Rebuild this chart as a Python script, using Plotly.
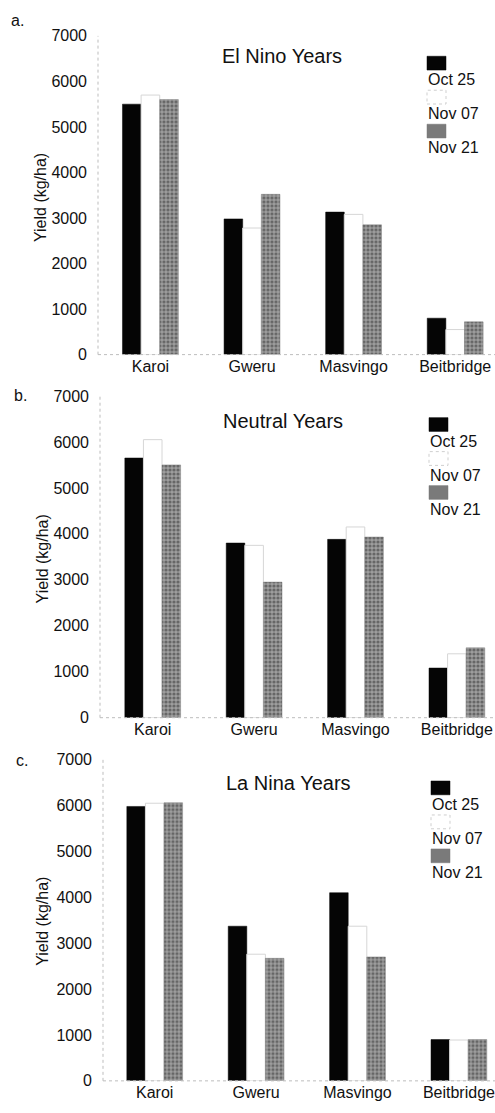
import plotly.graph_objects as go

# ---------------- data ----------------
sites = ["Karoi", "Gweru", "Masvingo", "Beitbridge"]
dates = ["Oct 25", "Nov 07", "Nov 21"]
yticks = [0, 1000, 2000, 3000, 4000, 5000, 6000, 7000]

elnino_oct25 = [5500, 2980, 3130, 800]
elnino_nov07 = [5700, 2780, 3080, 550]
elnino_nov21 = [5600, 3520, 2850, 720]

neutral_oct25 = [5650, 3800, 3880, 1080]
neutral_nov07 = [6050, 3750, 4150, 1390]
neutral_nov21 = [5500, 2950, 3930, 1520]

lanina_oct25 = [5980, 3370, 4100, 900]
lanina_nov07 = [6050, 2760, 3370, 890]
lanina_nov21 = [6060, 2670, 2700, 900]

panel_titles = ["El Nino Years", "Neutral Years", "La Nina Years"]
panel_letters = ["a.", "b.", "c."]
ytitle = "Yield (kg/ha)"

panels = [
    [elnino_oct25, elnino_nov07, elnino_nov21],
    [neutral_oct25, neutral_nov07, neutral_nov21],
    [lanina_oct25, lanina_nov07, lanina_nov21],
]

# ---------------- layout geometry (pixels) ----------------
W, H = 495, 1113
FONT = "Arial, Liberation Sans, sans-serif"

geo = [
    dict(left=98, y0=352.0, y7=28.3, xr=[-0.516, 3.392], title=(282, 49),
         legx=427, legy=49, letter=(9, 13), ylab=(40, 193)),
    dict(left=100, y0=720.7, y7=394.0, xr=[-0.52, 3.376], title=(283, 419),
         legx=429, legy=416, letter=(12, 394), ylab=(42, 560)),
    dict(left=103, y0=1089.5, y7=763.3, xr=[-0.51, 3.356], title=(288, 787),
         legx=431, legy=785, letter=(14, 764), ylab=(43, 928)),
]

def px(x):
    return x / W

def py(y):
    return 1 - y / H

black_style = dict(color="#050505", line=dict(color="#050505", width=0.5))
white_style = dict(color="#ffffff", line=dict(color="#d6d6d6", width=1))
gray_style = dict(color="#7e7e7e",
                  pattern=dict(shape=".", fgcolor="#2e2e2e", bgcolor="#9e9e9e",
                               size=4, solidity=0.5),
                  line=dict(color="#7e7e7e", width=0.5))
styles = [black_style, white_style, gray_style]

fig = go.Figure()
layout = dict(
    width=W, height=H, margin=dict(l=0, r=0, t=0, b=0),
    paper_bgcolor="white", plot_bgcolor="white",
    barmode="group", bargap=0.45, bargroupgap=0.0,
    showlegend=False, font=dict(family=FONT, size=16, color="#111111"),
)
annotations = []
shapes = []

for i, (vals, g) in enumerate(zip(panels, geo)):
    xa = "x" if i == 0 else f"x{i+1}"
    ya = "y" if i == 0 else f"y{i+1}"
    for j in range(3):
        fig.add_trace(go.Bar(x=sites, y=vals[j], name=dates[j], marker=styles[j],
                             xaxis=xa, yaxis=ya))
    xkey = "xaxis" if i == 0 else f"xaxis{i+1}"
    ykey = "yaxis" if i == 0 else f"yaxis{i+1}"
    layout[xkey] = dict(domain=[px(g["left"]), 1.0], range=g["xr"], anchor=ya,
                        showgrid=False, zeroline=False, showline=False, ticks="",
                        tickfont=dict(size=16, family=FONT, color="#111111"),
                        ticklabelstandoff=0, fixedrange=True)
    layout[ykey] = dict(domain=[py(g["y0"]), py(g["y7"])], range=[0, 7000], anchor=xa,
                        tickvals=yticks, showgrid=False, zeroline=False, showline=False,
                        ticks="", tickfont=dict(size=16, family=FONT, color="#111111"),
                        ticklabelstandoff=10, fixedrange=True)
    # faint dotted axis lines
    shapes.append(dict(type="line", xref=f"{xa} domain", yref=f"{ya} domain",
                       x0=0, x1=0, y0=0, y1=1, line=dict(color="#bdbdbd", width=1, dash="dot")))
    shapes.append(dict(type="line", xref=f"{xa} domain", yref=f"{ya} domain",
                       x0=0, x1=1, y0=0, y1=0, line=dict(color="#bdbdbd", width=1, dash="dot")))
    # title
    annotations.append(dict(text=panel_titles[i], x=px(g["title"][0]), y=py(g["title"][1]),
                            xref="paper", yref="paper", showarrow=False,
                            xanchor="center", yanchor="middle",
                            font=dict(size=20, family=FONT, color="#111111")))
    # panel letter
    annotations.append(dict(text=panel_letters[i], x=px(g["letter"][0]), y=py(g["letter"][1]),
                            xref="paper", yref="paper", showarrow=False,
                            xanchor="left", yanchor="middle",
                            font=dict(size=16, family=FONT, color="#111111")))
    # y title
    annotations.append(dict(text=ytitle, x=px(g["ylab"][0]), y=py(g["ylab"][1]),
                            xref="paper", yref="paper", showarrow=False, textangle=-90,
                            xanchor="center", yanchor="middle",
                            font=dict(size=16, family=FONT, color="#111111")))
    # legend: swatch above label
    for j in range(3):
        top = g["legy"] + j * 34.5
        sw = dict(type="rect", xref="paper", yref="paper",
                  x0=px(g["legx"]), x1=px(g["legx"] + 19),
                  y0=py(top + 14), y1=py(top), layer="above")
        if j == 0:
            sw.update(fillcolor="#050505", line=dict(color="#050505", width=0.5))
        elif j == 1:
            sw.update(fillcolor="#ffffff", line=dict(color="#cfcfcf", width=1, dash="dot"))
        else:
            sw.update(fillcolor="#7a7a7a", line=dict(color="#7a7a7a", width=0.5))
        shapes.append(sw)
        annotations.append(dict(text=dates[j], x=px(g["legx"] - 1), y=py(top + 24),
                                xref="paper", yref="paper", showarrow=False,
                                xanchor="left", yanchor="middle",
                                font=dict(size=16, family=FONT, color="#111111")))

layout["annotations"] = annotations
layout["shapes"] = shapes
fig.update_layout(**layout)
fig.write_html("out.html")
